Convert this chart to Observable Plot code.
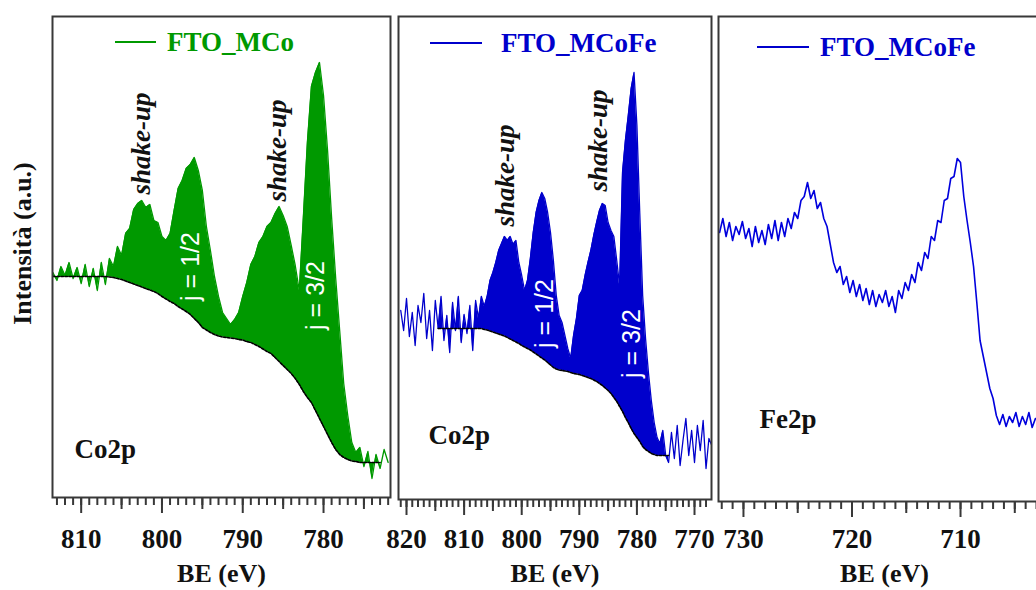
<!DOCTYPE html>
<html>
<head>
<meta charset="utf-8">
<script src="https://cdn.jsdelivr.net/npm/d3@7"></script>
<script src="https://cdn.jsdelivr.net/npm/@observablehq/plot@0.6"></script>
<style>
  html, body { margin: 0; padding: 0; background: #fff; overflow: hidden; }
  #wrap { position: relative; width: 1036px; height: 590px; overflow: hidden; background: #fff; }
  .leg { position: absolute; font-family: 'Liberation Serif','Times New Roman',serif; font-weight: bold; font-size: 27px; line-height: 27px; white-space: nowrap; }
  .sw { position: absolute; height: 1.6px; }
</style>
</head>
<body>
<div id="wrap"></div>
<script>
// ---------------- DATA ----------------
// Panel 1: FTO_MCo, Co2p  (BE in eV, intensity in a.u.)
const co1BE = [813.5,813,812.5,812,811.5,811,810.5,810,809.5,809,808.5,808,807.5,807,806.5,806,805.5,805,804.5,804,803.5,803,802.5,802,801.5,801,800.5,800,799.5,799,798.5,798,797.5,797,796.5,796,795.5,795,794.5,794,793.5,793,792.5,792,791.5,791,790.5,790,789.5,789,788.5,788,787.5,787,786.5,786,785.5,785,784.5,784,783.5,783,782.5,782,781.5,781,780.5,780,779.5,779,778.5,778,777.5,777,776.5,776,775.5,775,774.5,774,773.5,773,772.5,772];
const co1Int = [228,220,234,225,238,222,233,217,236,214,232,210,238,216,242,234,254,245,267,272,291,297,300,293,296,280,278,264,260,267,290,312,320,332,336,343,330,310,274,250,224,204,188,182,176,181,188,204,218,236,244,258,264,274,278,287,294,285,274,255,235,210,283,358,414,428,438,405,350,283,223,170,117,85,58,48,53,34,49,22,46,32,51,38];
const co1Bg = [224,224,224,224,224,224,224,224,224,224,224,224,224,224,223.5,223,222,221,219.5,218,216.5,215,213.5,212,210.5,209,207,204,201.5,199,197,194,191.5,189,186,182,178,173,170.5,168,166,164.5,163.5,163,162.5,162,161,160.5,159,158,156,154,151.5,149,147,143,139,135,131,127,122,116,109,103,98,90,82,74,66,58,51,46,43,41,39.5,39,38,38,38,38,38,38,null,null];

// Panel 2: FTO_MCoFe, Co2p
const co2BE = [821,820.5,820,819.5,819,818.5,818,817.5,817,816.5,816,815.5,815,814.5,814,813.5,813,812.5,812,811.5,811,810.5,810,809.5,809,808.5,808,807.5,807,806.5,806,805.5,805,804.5,804,803.5,803,802.5,802,801.5,801,800.5,800,799.5,799,798.5,798,797.5,797,796.5,796,795.5,795,794.5,794,793.5,793,792.5,792,791.5,791,790.5,790,789.5,789,788.5,788,787.5,787,786.5,786,785.5,785,784.5,784,783.5,783,782.5,782,781.5,781,780.5,780,779.5,779,778.5,778,777.5,777,776.5,776,775.5,775,774.5,774,773.5,773,772.5,772,771.5,771,770.5,770,769.5,769,768.5,768,767.5,767];
const co2Int = [190,170,202,164,188,155,195,178,207,162,190,150,200,172,204,160,185,148,198,170,204,158,186,167,195,150,200,182,204,194,204,220,228,238,250,257,264,260,264,256,260,238,225,210,220,242,268,288,300,308,302,288,268,240,205,185,178,165,152,142,165,182,205,210,225,238,250,265,278,290,297,295,278,270,264,240,215,328,360,385,412,428,375,287,205,162,128,100,78,63,57,70,45,38,68,42,75,35,60,82,45,70,38,75,50,80,32,62,55];
const co2Bg = [null,null,null,null,null,null,null,null,null,null,null,null,null,172,172,172,172,172,172,172,172,172,172,172,172,172,172,172,172,171,170.5,169.5,168.5,167.5,166.5,165.5,164.5,163,161.5,160,158.5,157,155,153.5,152,150.5,148.5,146.5,144.5,142.5,140.5,138,135.5,133,131.5,130.5,130,129.5,129,128,127,126.5,126,125,124,123,122,120.5,119,117,115,112.5,110,107,103,99,94,89,83,78,72,67,63,59,54,51,49,47,46,45,45,45,45,45,null,null,null,null,null,null,null,null,null,null,null,null,null,null,null];

// Panel 3: FTO_MCoFe, Fe2p
const fe3BE = [732.2,731.9,731.6,731.3,731.0,730.7,730.4,730.1,729.8,729.5,729.2,728.9,728.6,728.3,728.0,727.7,727.4,727.1,726.8,726.5,726.2,725.9,725.6,725.3,725.0,724.7,724.4,724.1,723.8,723.5,723.2,722.9,722.6,722.3,722.0,721.7,721.4,721.1,720.8,720.5,720.2,719.9,719.6,719.3,719.0,718.7,718.4,718.1,717.8,717.5,717.2,716.9,716.6,716.3,716.0,715.7,715.4,715.1,714.8,714.5,714.2,713.9,713.6,713.3,713.0,712.7,712.4,712.1,711.8,711.5,711.2,710.9,710.6,710.3,710.0,709.7,709.4,709.1,708.8,708.5,708.2,707.9,707.6,707.3,707.0,706.7,706.4,706.1,705.8,705.5,705.2,704.9,704.6,704.3,704.0,703.7,703.4,703.1,702.8];
const fe3Int = [268,282,264,278,260,274,266,279,262,272,254,274,258,270,256,276,262,280,260,278,264,282,272,288,282,300,304,318,302,310,292,298,282,274,256,238,228,234,216,224,208,220,204,216,200,212,196,210,194,206,198,210,194,204,188,210,202,218,210,226,218,238,230,248,242,264,260,280,278,300,302,322,324,342,338,304,280,258,234,198,160,144,128,112,102,85,76,86,74,84,78,88,74,84,76,88,73,82,80];

// Peak annotations (text, anchor BE, anchor intensity)
const co1NoteText = ["shake-up", "j = 1/2", "shake-up", "j = 3/2"];
const co1NoteBE   = [802.5, 796.35, 785.7, 780.9];
const co1NoteInt  = [357, 234, 350, 205];
const co2NoteText = ["shake-up", "j = 1/2", "shake-up", "j = 3/2"];
const co2NoteBE   = [802.8, 795.9, 786.7, 780.8];
const co2NoteInt  = [325, 187, 360, 157];

// Tick values
const p1Major = [810, 800, 790, 780];
const p1Mid   = [805, 795, 785, 775];
const p2Major = [820, 810, 800, 790, 780, 770];
const p2Mid   = [815, 805, 795, 785, 775];
const p3Major = [730, 720, 710];
const p3Mid   = [725, 715, 705];

const seriesNames = ["FTO_MCo", "FTO_MCoFe", "FTO_MCoFe"];
const coreLevels = ["Co2p", "Co2p", "Fe2p"];
const xLabel = "BE (eV)";
const yLabel = "Intensità (a.u.)";

// ---------------- RENDER ----------------
const SERIF = "'Liberation Serif','Times New Roman',Times,serif";
const SANS = "'Liberation Sans',Arial,Helvetica,sans-serif";
const GREEN = "#009900", BLUE = "#0000cc", INK = "#111", FRAME = "#383838";
const wrap = document.getElementById("wrap");

const rowsOf = (be, int, bg) => be.map((b, i) => ({be: b, int: int[i], bg: bg ? bg[i] : null}));
const notesOf = (t, be, int) => t.map((s, i) => ({text: s, be: be[i], int: int[i]}));

function panel(o) {
  const marks = [];
  if (o.bg) marks.push(Plot.areaY(o.rows, {x: "be", y1: "bg", y2: "int", fill: o.color, clip: true}));
  marks.push(Plot.line(o.rows, {x: "be", y: "int", stroke: o.color, strokeWidth: o.lw, clip: true}));
  if (o.bg) marks.push(Plot.line(o.rows, {x: "be", y: "bg", stroke: "#000", strokeWidth: 1.6, strokeDasharray: "2.5,1.5", clip: true}));
  marks.push(Plot.axisX({ticks: o.minor, tickSize: 8, tickFormat: () => "", stroke: FRAME, strokeWidth: 2, label: null}));
  marks.push(Plot.axisX({ticks: o.mid, tickSize: 12, tickFormat: () => "", stroke: FRAME, strokeWidth: 2, label: null}));
  marks.push(Plot.axisX({ticks: o.major, tickSize: 16, tickPadding: o.pad, tickFormat: d => String(d), stroke: FRAME, strokeWidth: 2, fill: INK, fontSize: 27, fontWeight: "bold", label: null}));
  marks.push(Plot.frame({stroke: FRAME, strokeWidth: 2}));
  marks.push(Plot.text([xLabel], {frameAnchor: "bottom", dy: o.labDy, text: d => d, fontSize: 26, fontWeight: "bold", fill: INK, lineAnchor: "middle", textAnchor: "middle"}));
  marks.push(Plot.text([o.core], {frameAnchor: "bottom-left", dx: o.coreDx, dy: o.coreDy, text: d => d, textAnchor: "start", lineAnchor: "middle", fontSize: 27, fontWeight: "bold", fill: INK}));
  if (o.ylab) marks.push(Plot.text([yLabel], {frameAnchor: "left", dx: -30, dy: -13.5, rotate: -90, text: d => d, textAnchor: "middle", lineAnchor: "middle", fontSize: 26, fontWeight: "bold", fill: INK}));
  if (o.notes) {
    marks.push(Plot.text(o.notes.filter(n => n.text === "shake-up"), {x: "be", y: "int", text: "text", rotate: -90, fontSize: 27, fontStyle: "italic", fontWeight: "bold", fill: INK, lineAnchor: "middle", textAnchor: "middle"}));
    marks.push(Plot.text(o.notes.filter(n => n.text !== "shake-up"), {x: "be", y: "int", text: "text", rotate: -90, fontSize: 25, fontFamily: SANS, fontWeight: "normal", fill: "#fff", lineAnchor: "middle", textAnchor: "middle"}));
  }
  const svg = Plot.plot({
    width: o.width, height: 590,
    marginLeft: o.mL, marginRight: o.mR, marginTop: 16, marginBottom: o.mB,
    x: {domain: o.xd, label: null},
    y: {domain: o.yd, axis: null},
    style: {fontFamily: SERIF, fontSize: "27px", fontWeight: "bold", background: "transparent", overflow: "visible", maxWidth: "none", color: INK},
    marks
  });
  svg.style.position = "absolute";
  svg.style.left = o.left + "px";
  svg.style.top = "0px";
  wrap.appendChild(svg);
}

panel({left: 0, width: 395, mL: 52, mR: 5, mB: 93, xd: [813.55, 771.71], yd: [3, 484],
  rows: rowsOf(co1BE, co1Int, co1Bg), bg: true, color: GREEN, lw: 1.3,
  minor: d3.range(772, 814), mid: p1Mid, major: p1Major, pad: 15.8, labDy: 76.5,
  core: coreLevels[0], coreDx: 22, coreDy: -48.6, ylab: true,
  notes: notesOf(co1NoteText, co1NoteBE, co1NoteInt)});

panel({left: 395, width: 320, mL: 3, mR: 4, mB: 91, xd: [821.39, 767.05], yd: [1, 484],
  rows: rowsOf(co2BE, co2Int, co2Bg), bg: true, color: BLUE, lw: 1.3,
  minor: d3.range(768, 822), mid: p2Mid, major: p2Major, pad: 13.8, labDy: 74.5,
  core: coreLevels[1], coreDx: 30, coreDy: -64.6,
  notes: notesOf(co2NoteText, co2NoteBE, co2NoteInt)});

panel({left: 714, width: 336, mL: 4, mR: 0, mB: 89, xd: [732.30, 701.71], yd: [-1, 484],
  rows: rowsOf(fe3BE, fe3Int, null), bg: false, color: "#0000dd", lw: 1.6,
  minor: d3.range(702, 733), mid: p3Mid, major: p3Major, pad: 11.8, labDy: 72.5,
  core: coreLevels[2], coreDx: 41, coreDy: -82.6});

// Legends
const legends = [
  {name: seriesNames[0], color: GREEN, swL: 115, swW: 41, swT: 41, txL: 167, txT: 29.4},
  {name: seriesNames[1], color: BLUE, swL: 430, swW: 52, swT: 42.3, txL: 501, txT: 30.4},
  {name: seriesNames[2], color: BLUE, swL: 757, swW: 52, swT: 46.3, txL: 820, txT: 34.4}
];
for (const l of legends) {
  const sw = document.createElement("div");
  sw.className = "sw";
  sw.style.cssText += `left:${l.swL}px;top:${l.swT}px;width:${l.swW}px;background:${l.color};`;
  wrap.appendChild(sw);
  const tx = document.createElement("div");
  tx.className = "leg";
  tx.textContent = l.name;
  tx.style.cssText += `left:${l.txL}px;top:${l.txT}px;color:${l.color};`;
  wrap.appendChild(tx);
}
</script>
</body>
</html>
